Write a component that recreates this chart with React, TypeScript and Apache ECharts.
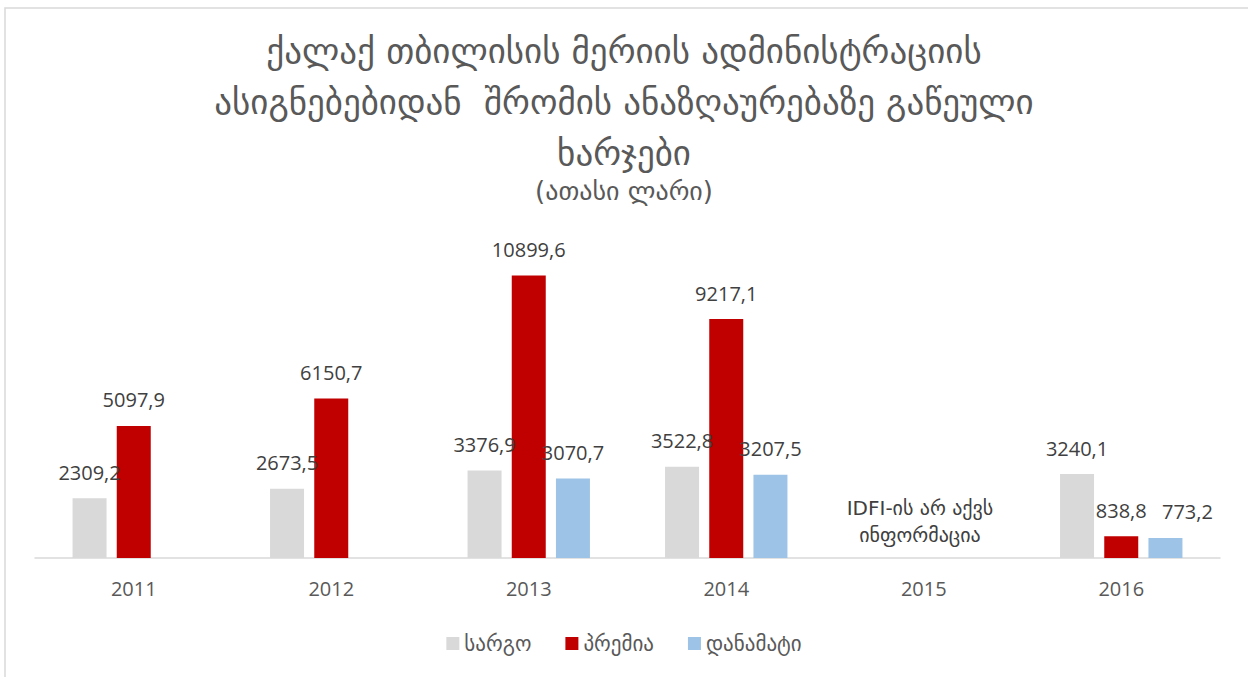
import React, { useEffect, useRef } from "react";
import * as echarts from "echarts";

const categories = ["2011", "2012", "2013", "2014", "2015", "2016"];
const salary: (number | null)[] = [2309.2, 2673.5, 3376.9, 3522.8, null, 3240.1];
const bonus: (number | null)[] = [5097.9, 6150.7, 10899.6, 9217.1, null, 838.8];
const supplement: (number | null)[] = [null, null, 3070.7, 3207.5, null, 773.2];
const seriesNames = ["სარგო", "პრემია", "დანამატი"];
const titleText = "ქალაქ თბილისის მერიის ადმინისტრაციის\nასიგნებებიდან  შრომის ანაზღაურებაზე გაწეული\nხარჯები";
const subtitleText = "(ათასი ლარი)";
const noInfoText = "IDFI-ის არ აქვს\nინფორმაცია";

const FONT = "'Open Sans', 'DejaVu Sans', sans-serif";
const GEO = "'DejaVu Sans', 'Noto Sans', sans-serif";

const fmt = (v: any) => (v == null ? "" : Number(v).toFixed(1).replace(".", ","));

export default function App() {
  const ref = useRef<HTMLDivElement>(null);
  useEffect(() => {
    if (!ref.current) return;
    const chart = echarts.init(ref.current, undefined, { renderer: "svg" });
    const label = {
      show: true,
      position: "top" as const,
      distance: 16,
      color: "#404040",
      fontSize: 20,
      fontFamily: FONT,
      formatter: (p: any) => fmt(p.value),
    };
    // last blue label nudged right like the reference (avoids overlap)
    const supplementData = supplement.map((v, i) =>
      i === supplement.length - 1 && v != null
        ? { value: v, label: { offset: [22, 0] } }
        : v
    );
    chart.setOption({
      animation: false,
      backgroundColor: "#ffffff",
      title: {
        text: titleText,
        subtext: subtitleText,
        left: "center",
        top: 20,
        itemGap: 0,
        textStyle: {
          color: "#595959",
          fontSize: 35,
          fontWeight: "normal",
          fontFamily: GEO,
          lineHeight: 51,
        },
        subtextStyle: {
          color: "#595959",
          fontSize: 26,
          fontFamily: GEO,
        },
      },
      legend: {
        bottom: 18,
        left: "center",
        itemWidth: 13,
        itemHeight: 13,
        itemGap: 34,
        icon: "rect",
        textStyle: { color: "#595959", fontSize: 21, fontFamily: GEO },
        data: seriesNames,
      },
      grid: { left: 35, right: 28, top: 247, bottom: 119, containLabel: false },
      xAxis: {
        type: "category",
        data: categories,
        axisLine: { lineStyle: { color: "#D9D9D9", width: 1.5 } },
        axisTick: { show: false },
        axisLabel: { color: "#595959", fontSize: 20, fontFamily: FONT, margin: 20 },
      },
      yAxis: {
        type: "value",
        min: 0,
        max: 12000,
        show: false,
        splitLine: { show: false },
      },
      graphic: [
        {
          type: "rect",
          silent: true,
          shape: { x: 5, y: 8, width: 1300, height: 700 },
          style: { fill: "none", stroke: "#D9D9D9", lineWidth: 1.5 },
        },
        {
          type: "text",
          x: 920,
          y: 521,
          style: {
            text: noInfoText,
            fill: "#404040",
            font: `20px ${GEO}`,
            align: "center",
            verticalAlign: "middle",
            lineHeight: 27,
          },
        },
      ],
      series: [
        {
          name: seriesNames[0],
          type: "bar",
          data: salary,
          barWidth: 34,
          barGap: "30%",
          itemStyle: { color: "#D9D9D9" },
          label,
        },
        {
          name: seriesNames[1],
          type: "bar",
          data: bonus,
          barWidth: 34,
          barGap: "30%",
          itemStyle: { color: "#C00000" },
          label,
        },
        {
          name: seriesNames[2],
          type: "bar",
          data: supplementData,
          barWidth: 34,
          barGap: "30%",
          itemStyle: { color: "#9DC3E6" },
          label,
        },
      ],
    });
    return () => chart.dispose();
  }, []);
  return (
    <div
      ref={ref}
      style={{ position: "fixed", left: 0, top: 0, width: 1248, height: 677 }}
    />
  );
}
